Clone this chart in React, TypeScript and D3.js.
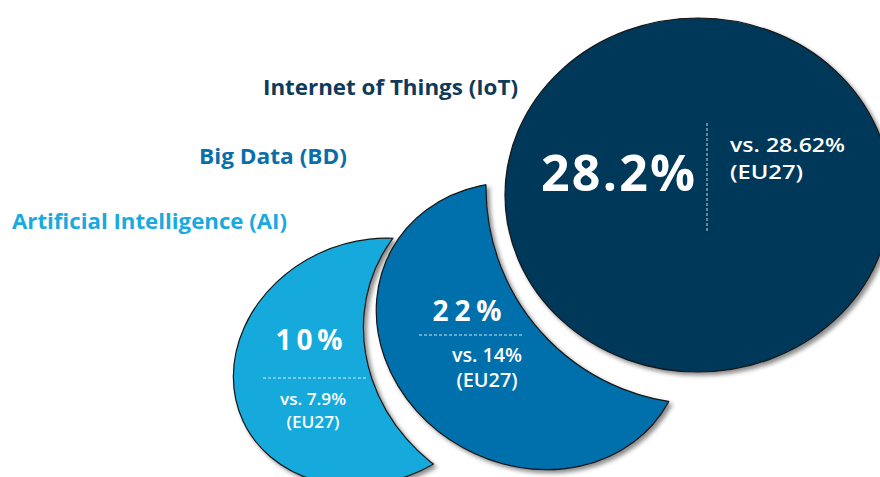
import React from "react";
import * as d3 from "d3";

// data
const categories = ["Artificial Intelligence (AI)", "Big Data (BD)", "Internet of Things (IoT)"];
const shares = [10, 22, 28.2];
const euShares = [7.9, 14, 28.62];
const euTag = "(EU27)";
const fills = ["#15aadc", "#0070ad", "#00395a"];
const labelColors = ["#1aaade", "#0a6fa9", "#0f3a59"];

// layout (ellipses of each moon shape and its cut-out)
const shapes = [
  { outer: { cx: 370, cy: 362, rx: 140, ry: 120, rot: -25 }, cut: { cx: 535, cy: 340, rx: 175, ry: 160, rot: 29 } },
  { outer: { cx: 530, cy: 326, rx: 158, ry: 139, rot: 29 }, cut: { cx: 702, cy: 188, rx: 216, ry: 216, rot: 0 } },
  { outer: { cx: 698, cy: 195, rx: 193, ry: 177, rot: 0 }, cut: null },
];

const labelPos = [
  { x: 12, y: 229, w: 275 },
  { x: 199, y: 164, w: 148 },
  { x: 263, y: 95, w: 255 },
];

const valuePos = [
  { x: 309, y: 350, size: 28, w: 67, anchor: "middle" },
  { x: 467, y: 321, size: 28, w: 69, anchor: "middle" },
  { x: 618, y: 191, size: 50, w: 154, anchor: "middle" },
];

const euPos = [
  { x: 313, y1: 405, y2: 428, size: 17, w1: 66, w2: 53, anchor: "middle" },
  { x: 487, y1: 362, y2: 387, size: 19, w1: 70, w2: 61, anchor: "middle" },
  { x: 730, y1: 152, y2: 179, size: 20, w1: 115, w2: 73, anchor: "start" },
];

const dashes = [
  { x1: 263, y1: 378, x2: 366, y2: 378 },
  { x1: 419, y1: 335, x2: 522, y2: 335 },
  { x1: 707, y1: 123, x2: 707, y2: 232 },
];

const fmt = d3.format("~g");
const font = "'Open Sans', 'Noto Sans', sans-serif";

type E = { cx: number; cy: number; rx: number; ry: number; rot: number };

function Ell({ e, ...rest }: { e: E; [k: string]: any }) {
  return (
    <ellipse
      cx={e.cx}
      cy={e.cy}
      rx={e.rx}
      ry={e.ry}
      transform={`rotate(${e.rot} ${e.cx} ${e.cy})`}
      {...rest}
    />
  );
}

export default function App() {
  const width = 880;
  const height = 477;
  return (
    <svg
      width={width}
      height={height}
      style={{ position: "absolute", left: 0, top: 0, background: "#fff" }}
    >
      <defs>
        <filter id="shadow" x="-20%" y="-20%" width="140%" height="140%">
          <feDropShadow dx="3" dy="3" stdDeviation="2" floodColor="#000" floodOpacity="0.45" />
        </filter>
        {shapes.map((s, i) =>
          s.cut ? (
            <React.Fragment key={i}>
              <mask id={`cut-${i}`} maskUnits="userSpaceOnUse" x={0} y={0} width={width} height={height}>
                <rect x={0} y={0} width={width} height={height} fill="#fff" />
                <Ell e={s.cut} fill="#000" />
              </mask>
              <clipPath id={`outer-${i}`}>
                <Ell e={s.outer} />
              </clipPath>
            </React.Fragment>
          ) : null
        )}
      </defs>

      {shapes.map((s, i) => (
        <g key={i} filter="url(#shadow)">
          <g mask={s.cut ? `url(#cut-${i})` : undefined}>
            <Ell e={s.outer} fill={fills[i]} stroke="#151515" strokeWidth={1.2} />
          </g>
          {s.cut && (
            <g clipPath={`url(#outer-${i})`}>
              <Ell e={s.cut} fill="none" stroke="#151515" strokeWidth={1.2} />
            </g>
          )}
        </g>
      ))}

      {categories.map((c, i) => (
        <text
          key={c}
          x={labelPos[i].x}
          y={labelPos[i].y}
          fill={labelColors[i]}
          fontFamily={font}
          fontWeight={700}
          fontSize={22}
          textLength={labelPos[i].w}
          lengthAdjust="spacingAndGlyphs"
        >
          {c}
        </text>
      ))}

      {shares.map((v, i) => (
        <text
          key={i}
          x={valuePos[i].x}
          y={valuePos[i].y}
          fill="#fff"
          fontFamily={font}
          fontWeight={700}
          fontSize={valuePos[i].size}
          textAnchor={valuePos[i].anchor}
          textLength={valuePos[i].w}
          lengthAdjust="spacing"
        >
          {fmt(v) + "%"}
        </text>
      ))}

      {dashes.map((d, i) => (
        <line key={i} {...d} stroke="#fff" strokeOpacity={0.8} strokeWidth={1} strokeDasharray="3 2" />
      ))}

      {euShares.map((v, i) => (
        <g key={i} fill="#fff" fontFamily={font} fontWeight={600} fontSize={euPos[i].size}>
          <text
            x={euPos[i].x}
            y={euPos[i].y1}
            textAnchor={euPos[i].anchor}
            textLength={euPos[i].w1}
            lengthAdjust="spacingAndGlyphs"
          >
            {`vs. ${fmt(v)}%`}
          </text>
          <text
            x={euPos[i].x}
            y={euPos[i].y2}
            textAnchor={euPos[i].anchor}
            textLength={euPos[i].w2}
            lengthAdjust="spacingAndGlyphs"
          >
            {euTag}
          </text>
        </g>
      ))}
    </svg>
  );
}
